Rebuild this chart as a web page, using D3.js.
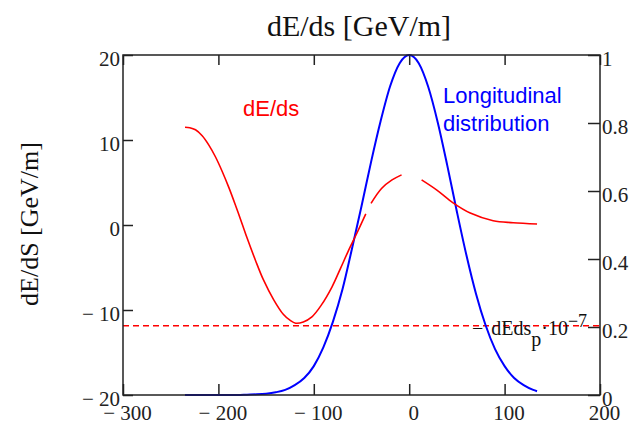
<!DOCTYPE html>
<html>
<head>
<meta charset="utf-8">
<script src="https://cdn.jsdelivr.net/npm/d3@7"></script>
<style>
  html, body { margin: 0; padding: 0; background: #ffffff; }
  svg { display: block; }
</style>
</head>
<body>
<svg id="chart" width="631" height="424"></svg>
<script>
// ---- data ----
const xTicks = [-300, -200, -100, 0, 100, 200];
const leftTicks = [-20, -10, 0, 10, 20];
const rightTicks = [0, 0.2, 0.4, 0.6, 0.8, 1];

// dE/ds curve (GeV/m) vs s; null = gap in the trace
const redS = [-235, -230, -224, -217, -210, -203, -196, -189, -182, -175, -170, -161, -153, -142, -132, -125, -119, -111, -102, -92, -81, -72, -64, -55, -45.5,
              -43,
              -40, -29, -18, -8,
              3,
              13, 29, 46, 64, 88, 109, 134];
const redV = [11.5, 11.45, 11.2, 10.5, 9.4, 8.0, 6.3, 4.4, 2.3, 0.1, -1.5, -4.2, -6.4, -8.8, -10.5, -11.2, -11.55, -11.4, -10.8, -9.4, -7.3, -5.1, -3.1, -1.0, 1.3,
              null,
              2.55, 4.3, 5.3, 5.9,
              null,
              5.3, 4.1, 2.6, 1.4, 0.5, 0.27, 0.12];

// longitudinal distribution (normalised) vs s
const blueS = [-235, -220, -200, -180, -170, -160, -150, -140, -130, -120, -110, -100, -90, -80, -70, -60, -50, -40, -30, -20, -10, 0,
               10, 20, 30, 40, 50, 60, 70, 80, 90, 100, 110, 120, 130, 134];
const blueV = [0, 0, 0, 0, 0.001, 0.002, 0.004, 0.008, 0.015, 0.029, 0.05, 0.085, 0.14, 0.215, 0.31, 0.43, 0.555, 0.685, 0.805, 0.908, 0.976, 1,
               0.976, 0.906, 0.801, 0.674, 0.539, 0.411, 0.298, 0.206, 0.135, 0.085, 0.05, 0.029, 0.015, 0.011];

const dashLevel = -11.85;   // -dEds_p * 1e-7

// ---- layout ----
const svg = d3.select("#chart");
const L = 123, R = 600, T = 55, B = 395;
const x = d3.scaleLinear().domain([-300, 200]).range([L, R]);
const yL = d3.scaleLinear().domain([-20, 20]).range([B, T]);
const yR = d3.scaleLinear().domain([0, 1]).range([B, T]);

const serif = "'Liberation Serif', 'Times New Roman', serif";
const sans = "'Liberation Sans', Arial, sans-serif";
const axisColor = "#222";
const fmt = d => d < 0 ? "\u2212 " + Math.abs(d) : String(d);

// title
svg.append("text").attr("x", 359).attr("y", 36).attr("text-anchor", "middle")
  .attr("font-family", serif).attr("font-size", 30).attr("fill", "#111")
  .text("dE/ds [GeV/m]");

// y label
svg.append("text").attr("transform", "translate(38,224) rotate(-90)")
  .attr("text-anchor", "middle").attr("font-family", serif).attr("font-size", 26).attr("fill", "#111")
  .text("dE/dS [GeV/m]");

// axes
function styleAxis(g) {
  g.select(".domain").remove();
  g.selectAll(".tick line").attr("stroke", axisColor).attr("stroke-width", 1.5);
  g.selectAll(".tick text").attr("font-family", serif).attr("font-size", 21).attr("fill", "#222");
}

const gB = svg.append("g").attr("transform", `translate(0,${B})`)
  .call(d3.axisBottom(x).tickValues(xTicks).tickSize(-11).tickFormat(fmt));
styleAxis(gB);
gB.selectAll(".tick text").attr("y", 25).attr("dy", 0).attr("dx", 4);

const gT = svg.append("g").attr("transform", `translate(0,${T})`)
  .call(d3.axisTop(x).tickValues(xTicks).tickSize(-10).tickFormat(""));
styleAxis(gT);

const gL = svg.append("g").attr("transform", `translate(${L},0)`)
  .call(d3.axisLeft(yL).tickValues(leftTicks).tickSize(-10).tickPadding(3).tickFormat(fmt));
styleAxis(gL);
gL.selectAll(".tick text").attr("dy", 10);

const gR = svg.append("g").attr("transform", `translate(${R},0)`)
  .call(d3.axisRight(yR).tickValues(rightTicks).tickSize(-12).tickPadding(2).tickFormat(d => String(d)));
styleAxis(gR);
gR.selectAll(".tick text").attr("dy", 10);

// dashed level line
svg.append("line").attr("x1", L).attr("x2", R)
  .attr("y1", yL(dashLevel)).attr("y2", yL(dashLevel))
  .attr("stroke", "#ff0000").attr("stroke-width", 1.5).attr("stroke-dasharray", "6,4");

// curves
const redData = redS.map((s, i) => ({ s, v: redV[i] }));
const blueData = blueS.map((s, i) => ({ s, v: blueV[i] }));

svg.append("path").datum(blueData)
  .attr("fill", "none").attr("stroke", "#0000ff").attr("stroke-width", 2)
  .attr("d", d3.line().x(d => x(d.s)).y(d => yR(d.v)).curve(d3.curveMonotoneX));

svg.append("path").datum(redData)
  .attr("fill", "none").attr("stroke", "#ff0000").attr("stroke-width", 1.6)
  .attr("d", d3.line().defined(d => d.v !== null).x(d => x(d.s)).y(d => yL(d.v)).curve(d3.curveCatmullRom.alpha(0.5)));

// frame
svg.append("rect").attr("x", L).attr("y", T).attr("width", R - L).attr("height", B - T)
  .attr("fill", "none").attr("stroke", axisColor).attr("stroke-width", 1.5);

// labels
svg.append("text").attr("x", 243).attr("y", 116).attr("font-family", sans).attr("font-size", 22)
  .attr("fill", "#ff0000").text("dE/ds");
const lt = svg.append("text").attr("font-family", sans).attr("font-size", 22).attr("fill", "#0000ff");
lt.append("tspan").attr("x", 443).attr("y", 103).text("Longitudinal");
lt.append("tspan").attr("x", 443).attr("y", 131).text("distribution");

// annotation -dEds_p·10^-7
const ann = svg.append("text").attr("x", 472).attr("y", 335).attr("font-family", serif).attr("font-size", 20).attr("fill", "#111");
ann.append("tspan").text("\u2212");
ann.append("tspan").attr("dx", 8).text("dEds");
ann.append("tspan").attr("dy", 11).text("p");
ann.append("tspan").attr("dy", -11).text("\u00b710");
ann.append("tspan").attr("dy", -8).attr("font-size", 18).text("\u22127");
</script>
</body>
</html>
